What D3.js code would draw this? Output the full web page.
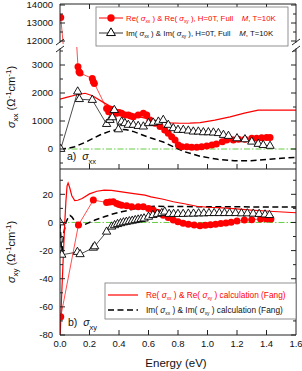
<!DOCTYPE html>
<html>
<head>
<meta charset="utf-8">
<script src="https://cdn.jsdelivr.net/npm/d3@7"></script>
<style>
  body { margin: 0; background: #fff; }
  svg { display: block; font-family: "Liberation Sans", Arial, sans-serif; }
</style>
</head>
<body>
<div id="chart"></div>
<script>
// Re / Im of sigma_xx (top) and sigma_xy (bottom) vs energy

// top panel: measured Re(sigma_xx)  [E eV, value]
const reXX = [[0.005,13300],[0.122,2940],[0.129,2760],[0.136,2710],[0.219,2520],[0.226,2400],[0.233,2340],
  [0.316,1450],[0.33,1330],[0.345,1420],[0.361,1390],[0.384,1275],[0.40,1300],[0.418,1275],[0.44,1215],
  [0.463,1215],[0.48,1180],[0.497,1150],[0.53,1215],[0.565,1275],[0.588,1215],[0.61,1035],[0.644,920],
  [0.678,800],[0.71,680],[0.734,560],[0.757,440],[0.78,320],[0.802,140],[0.825,80],[0.86,80],[0.893,60],
  [0.927,60],[0.96,80],[0.995,110],[1.03,140],[1.06,180],[1.1,260],[1.13,320],[1.175,320],[1.21,345],
  [1.254,345],[1.3,380],[1.333,380],[1.367,400],[1.4,415],[1.424,415]];
// top panel: measured Im(sigma_xx)
const imXX = [[0.005,0],[0.12,2050],[0.131,1780],[0.219,1750],[0.316,890],[0.339,1035],[0.355,1130],
  [0.368,1390],[0.396,700],[0.418,975],[0.44,920],[0.463,860],[0.497,860],[0.53,820],[0.565,800],
  [0.6,920],[0.632,940],[0.667,975],[0.7,1035],[0.734,860],[0.768,740],[0.8,680],[0.836,680],[0.87,655],
  [0.904,620],[0.938,620],[0.972,595],[1.006,595],[1.04,585],[1.074,565],[1.108,500],[1.142,465],
  [1.2,380],[1.254,345],[1.3,260],[1.344,180],[1.378,140],[1.424,110]];
// top panel: calculation (Fang)
const reXXcalc = [[0,1780],[0.05,1850],[0.1,1920],[0.17,1990],[0.22,1900],[0.305,1630],[0.36,1470],
  [0.418,1330],[0.5,1200],[0.576,1100],[0.678,975],[0.75,935],[0.813,920],[0.88,925],[0.95,940],
  [1.05,1030],[1.153,1150],[1.25,1280],[1.344,1390],[1.45,1390],[1.6,1390]];
const imXXcalc = [[0,0],[0.05,20],[0.1,80],[0.18,260],[0.27,500],[0.33,620],[0.4,710],[0.45,690],
  [0.5,620],[0.55,520],[0.617,390],[0.7,250],[0.77,80],[0.843,-95],[0.95,-260],[1.07,-370],
  [1.18,-420],[1.295,-420],[1.41,-370],[1.5,-330],[1.6,-300]];

// bottom panel: measured Re(sigma_xy)
const reXY = [[0.005,-67],[0.125,-1.8],[0.226,15.9],[0.316,14.2],[0.338,14.5],[0.361,14.7],[0.384,13.5],
  [0.40,12.8],[0.418,12.3],[0.452,11.8],[0.486,11.1],[0.53,11.1],[0.565,11.1],[0.6,10],[0.632,8.8],
  [0.666,7],[0.7,5.2],[0.734,3.5],[0.768,1.7],[0.80,0.5],[0.835,-0.6],[0.87,-1.2],[0.91,-1.8],
  [0.949,-2.3],[0.985,-2],[1.02,-1.6],[1.055,-1.2],[1.09,-0.8],[1.125,-0.3],[1.16,0.2],[1.2,1],
  [1.25,1.7],[1.3,2],[1.36,2.4],[1.4,2.4],[1.43,2.4]];
// bottom panel: measured Im(sigma_xy)
const imXY = [[0.0,0],[0.012,-23],[0.118,-21],[0.136,-22.6],[0.226,-18],[0.235,-17],[0.316,-6.6],
  [0.35,-3],[0.37,-2],[0.39,-1.2],[0.41,-0.6],[0.43,0],[0.45,0.4],[0.47,0.8],[0.49,1.2],[0.51,1.6],
  [0.53,2],[0.55,2.4],[0.57,2.8],[0.6,4],[0.63,5.2],[0.66,6],[0.69,6.6],[0.71,7.6],[0.74,6],[0.77,6],
  [0.8,6],[0.835,6],[0.87,6.2],[0.905,6.2],[0.94,6.4],[0.975,6.4],[1.01,6.6],[1.045,6.6],[1.08,6.6],
  [1.115,6.6],[1.15,6.6],[1.19,6.6],[1.23,6.4],[1.27,6.4],[1.31,6.2],[1.35,6],[1.39,5.6],[1.42,5.2]];
// bottom panel: calculation (Fang)
const reXYcalc = [[0,-85],[0.01,-55],[0.02,-30],[0.03,-5],[0.04,15],[0.048,26],[0.055,28],[0.065,25],
  [0.08,19],[0.1,15.5],[0.12,15.8],[0.15,17],[0.2,20.3],[0.25,22.2],[0.3,23],[0.35,22.8],[0.418,21.7],
  [0.5,20.5],[0.576,19.4],[0.617,18.2],[0.7,16.5],[0.768,14.7],[0.843,13.3],[0.927,11.5],[1.0,10.8],
  [1.07,10.5],[1.153,10],[1.295,8.8],[1.45,7.8],[1.6,6.9]];
const imXYcalc = [[0,0],[0.005,-10],[0.01,-24],[0.015,-20],[0.025,-8],[0.04,0],[0.055,3.5],[0.068,5],
  [0.08,4],[0.1,1],[0.13,-1.2],[0.158,-1.8],[0.19,-0.5],[0.237,1.7],[0.3,4],[0.35,5.8],[0.418,7.6],
  [0.5,9.5],[0.576,11.1],[0.65,11.5],[0.8,11.3],[1.0,11.2],[1.2,11.1],[1.4,11],[1.6,11]];

const xTicks = [0, 0.2, 0.4, 0.6, 0.8, 1.0, 1.2, 1.4, 1.6];
const yLoTicks = [0, 1000, 2000, 3000];
const yLoMinor = [-500, 500, 1500, 2500, 3500];
const yHiTicks = [12000, 13000, 14000];
const yHiMinor = [12500, 13500];
const yBTicks = [20, 0, -20, -40, -60, -80];
const yBMinor = [30, 10, -10, -30, -50, -70];

const W = 302, H = 371;
const L = 60, R = 296, T = 4, MID = 169, B = 335;
const RED = '#ff0000', GREEN = '#66cc44';
const NB = '\u00a0';

const svg = d3.select('#chart').append('svg').attr('width', W).attr('height', H);
const defs = svg.append('defs');

const x = d3.scaleLinear().domain([0, 1.6]).range([L, R]);
const yHi = d3.scaleLinear().domain([12000, 14000]).range([41, 5]);
const yLo = d3.scaleLinear().domain([0, 3000]).range([149, 65]);
const yB = d3.scaleLinear().domain([-80, 38]).range([B, MID]);

function clip(id, y0, y1) {
  defs.append('clipPath').attr('id', id).append('rect')
    .attr('x', L).attr('y', y0).attr('width', R - L).attr('height', y1 - y0);
  return svg.append('g').attr('clip-path', `url(#${id})`);
}

const gHi = clip('cHi', T, 44);
const gLo = clip('cLo', 47, MID);
const gB = clip('cB', MID, B);

function drawPanel(g, y, s) {
  // zero line
  g.append('line').attr('x1', L).attr('x2', R).attr('y1', y(0)).attr('y2', y(0))
    .attr('stroke', GREEN).attr('stroke-width', 1).attr('stroke-dasharray', '6,2,1.5,2');
  const line = d3.line().x(d => x(d[0])).y(d => y(d[1]));
  g.append('path').attr('d', line(s.imCalc)).attr('fill', 'none').attr('stroke', '#000')
    .attr('stroke-width', 1.5).attr('stroke-dasharray', '6,3.5');
  g.append('path').attr('d', line(s.reCalc)).attr('fill', 'none').attr('stroke', RED).attr('stroke-width', 1.2);
  g.append('path').attr('d', line(s.im)).attr('fill', 'none').attr('stroke', '#000').attr('stroke-width', 0.7);
  g.append('path').attr('d', line(s.re)).attr('fill', 'none').attr('stroke', RED).attr('stroke-width', 0.7);
  g.selectAll('circle.re').data(s.re).enter().append('circle').attr('class', 're')
    .attr('cx', d => x(d[0])).attr('cy', d => y(d[1])).attr('r', 3.5).attr('fill', RED);
  g.selectAll('path.im').data(s.im).enter().append('path').attr('class', 'im')
    .attr('d', d3.symbol(d3.symbolTriangle, 30))
    .attr('transform', d => `translate(${x(d[0])},${y(d[1])})`)
    .attr('fill', '#fff').attr('stroke', '#000').attr('stroke-width', 0.9);
}

const topSeries = { re: reXX, im: imXX, reCalc: reXXcalc, imCalc: imXXcalc };
drawPanel(gHi, yHi, topSeries);
drawPanel(gLo, yLo, topSeries);
drawPanel(gB, yB, { re: reXY, im: imXY, reCalc: reXYcalc, imCalc: imXYcalc });

// frames
const ax = svg.append('g').attr('stroke', '#222').attr('stroke-width', 1).attr('fill', 'none');
ax.append('line').attr('x1', L).attr('x2', R).attr('y1', T).attr('y2', T);
ax.append('line').attr('x1', L).attr('x2', R).attr('y1', MID).attr('y2', MID);
ax.append('line').attr('x1', L).attr('x2', R).attr('y1', B).attr('y2', B);
[L, R].forEach(px => {
  ax.append('line').attr('x1', px).attr('x2', px).attr('y1', T).attr('y2', 42.5);
  ax.append('line').attr('x1', px).attr('x2', px).attr('y1', 48.5).attr('y2', B);
  ax.append('line').attr('x1', px - 4).attr('x2', px + 4).attr('y1', 45).attr('y2', 39);
  ax.append('line').attr('x1', px - 4).attr('x2', px + 4).attr('y1', 52).attr('y2', 46);
});

// ticks
function yTick(yy, len) {
  ax.append('line').attr('x1', L).attr('x2', L + len).attr('y1', yy).attr('y2', yy);
  ax.append('line').attr('x1', R).attr('x2', R - len).attr('y1', yy).attr('y2', yy);
}
yLoTicks.forEach(v => yTick(yLo(v), 5));
yLoMinor.forEach(v => yTick(yLo(v), 3));
yHiTicks.forEach(v => yTick(yHi(v), 5));
yHiMinor.forEach(v => yTick(yHi(v), 3));
yBTicks.forEach(v => yTick(yB(v), 5));
yBMinor.forEach(v => yTick(yB(v), 3));
xTicks.slice(1, -1).forEach(v => {
  ax.append('line').attr('x1', x(v)).attr('x2', x(v)).attr('y1', T).attr('y2', T + 5);
  ax.append('line').attr('x1', x(v)).attr('x2', x(v)).attr('y1', MID).attr('y2', MID - 5);
  ax.append('line').attr('x1', x(v)).attr('x2', x(v)).attr('y1', B).attr('y2', B - 5);
});

// tick labels
const lab = svg.append('g').attr('font-size', 9.5).attr('fill', '#111');
function yLab(yy, t) {
  lab.append('text').attr('x', 53).attr('y', yy).attr('dy', '0.35em').attr('text-anchor', 'end').text(t);
}
yLoTicks.forEach(v => yLab(yLo(v), v));
yHiTicks.forEach(v => yLab(yHi(v), v));
yBTicks.forEach(v => yLab(yB(v), v));
xTicks.forEach(v => lab.append('text').attr('x', x(v)).attr('y', 346.5)
  .attr('text-anchor', 'middle').text(d3.format('.1f')(v)));

svg.append('text').attr('x', 176).attr('y', 367).attr('text-anchor', 'middle')
  .attr('font-size', 11.5).attr('fill', '#111').text('Energy (eV)');

// axis titles
function yTitle(cy, sub) {
  const t = svg.append('text').attr('transform', `translate(15,${cy}) rotate(-90)`)
    .attr('text-anchor', 'middle').attr('font-size', 11).attr('fill', '#111');
  t.append('tspan').attr('font-style', 'italic').text('σ');
  t.append('tspan').attr('font-size', 8).attr('dy', 3).text(sub);
  t.append('tspan').attr('dy', -3).text(' (Ω');
  t.append('tspan').attr('font-size', 8).attr('dy', -4).text('-1');
  t.append('tspan').attr('dy', 4).text('cm');
  t.append('tspan').attr('font-size', 8).attr('dy', -4).text('-1');
  t.append('tspan').attr('dy', 4).text(')');
}
yTitle(97, 'xx');
yTitle(252, 'xy');

// panel tags
function tag(px, py, letter, sub) {
  const t = svg.append('text').attr('x', px).attr('y', py).attr('font-size', 10.5).attr('fill', '#111');
  t.append('tspan').text(letter + ')' + NB + NB);
  t.append('tspan').attr('font-style', 'italic').text('σ');
  t.append('tspan').attr('font-size', 7.5).attr('dy', 4).text(sub);
}
tag(67, 160, 'a', 'xx');
tag(68, 326, 'b', 'xy');

// legend text helper
function sigmaText(t, parts) {
  parts.forEach(p => {
    if (p.s) {
      t.append('tspan').attr('font-style', 'italic').text('σ');
      t.append('tspan').attr('font-size', 4.8).attr('dy', 2).text(p.s);
      t.append('tspan').attr('dy', -2).text(NB);
    } else if (p.i) {
      t.append('tspan').attr('font-style', 'italic').text(p.i);
    } else {
      t.append('tspan').text(p.t);
    }
  });
}

// top legend
const lg1 = svg.append('g');
lg1.append('rect').attr('x', 96).attr('y', 7).attr('width', 192).attr('height', 39)
  .attr('fill', '#fff').attr('stroke', '#777').attr('stroke-width', 0.8);
lg1.append('line').attr('x1', 99).attr('x2', 123).attr('y1', 18).attr('y2', 18).attr('stroke', RED);
lg1.append('circle').attr('cx', 111).attr('cy', 18).attr('r', 3.7).attr('fill', RED);
lg1.append('line').attr('x1', 99).attr('x2', 123).attr('y1', 33).attr('y2', 33).attr('stroke', '#000').attr('stroke-width', 0.8);
lg1.append('path').attr('d', d3.symbol(d3.symbolTriangle, 34)).attr('transform', 'translate(111,33)')
  .attr('fill', '#fff').attr('stroke', '#000');
const fullM = '), H=0T, Full' + NB + NB + NB + NB;
sigmaText(lg1.append('text').attr('x', 126).attr('y', 20.5).attr('font-size', 7.8).attr('fill', RED),
  [{t: 'Re(' + NB}, {s: 'xx'}, {t: ') & Re(' + NB}, {s: 'xy'}, {t: fullM}, {i: 'M'}, {t: ', T=10K'}]);
sigmaText(lg1.append('text').attr('x', 126).attr('y', 35.5).attr('font-size', 7.8).attr('fill', '#111'),
  [{t: 'Im(' + NB}, {s: 'xx'}, {t: ') & Im(' + NB}, {s: 'xy'}, {t: fullM}, {i: 'M'}, {t: ', T=10K'}]);

// bottom legend
const lg2 = svg.append('g');
lg2.append('rect').attr('x', 105).attr('y', 283).attr('width', 191).attr('height', 36)
  .attr('fill', '#fff').attr('stroke', '#777').attr('stroke-width', 0.8);
lg2.append('line').attr('x1', 108).attr('x2', 138).attr('y1', 295).attr('y2', 295).attr('stroke', RED).attr('stroke-width', 1.2);
lg2.append('line').attr('x1', 108).attr('x2', 138).attr('y1', 310).attr('y2', 310).attr('stroke', '#000')
  .attr('stroke-width', 1.5).attr('stroke-dasharray', '6,3.5');
sigmaText(lg2.append('text').attr('x', 146).attr('y', 297.5).attr('font-size', 8.3).attr('fill', RED),
  [{t: 'Re(' + NB}, {s: 'xx'}, {t: ') & Re(' + NB}, {s: 'xy'}, {t: ') calculation (Fang)'}]);
sigmaText(lg2.append('text').attr('x', 146).attr('y', 312.5).attr('font-size', 8.3).attr('fill', '#111'),
  [{t: 'Im(' + NB}, {s: 'xx'}, {t: ') & Im(' + NB}, {s: 'xy'}, {t: ') calculation (Fang)'}]);
</script>
</body>
</html>
